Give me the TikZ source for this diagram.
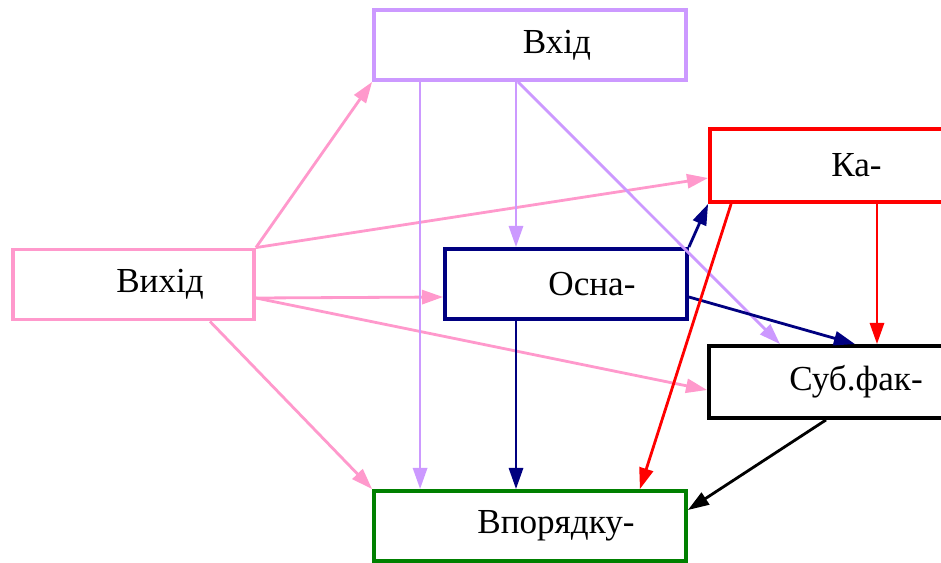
\documentclass[tikz,border=0pt]{standalone}
\usepackage{fontspec}
\setmainfont{Liberation Serif}
\usetikzlibrary{arrows.meta}

\definecolor{pinkline}{HTML}{FF99CC}
\definecolor{lilac}{HTML}{CC99FF}
\definecolor{navyline}{HTML}{000080}
\definecolor{redline}{HTML}{FF0000}
\definecolor{greenbox}{HTML}{008000}

\begin{document}
\begin{tikzpicture}[x=0.02cm,y=-0.02cm,>={Triangle[length=12pt,width=8pt]},
    font=\fontsize{20}{24}\selectfont,
    box/.style={draw,line width=2.2pt,fill=white,inner sep=0pt,minimum height=1.4cm},
    edge/.style={->,line width=1.6pt}]
    \useasboundingbox (0,0) rectangle (941,562);

    % draw the boxes, the text sits right of the middle
    \node[box,draw=lilac,minimum width=6.24cm,
          label={[name=vhidt,xshift=0.54cm]center:Вхід}] (vhid) at (530,45) {};
    \node[box,draw=pinkline,minimum width=4.82cm,
          label={[name=vyhidt,xshift=0.53cm]center:Вихід}] (vyhid) at (133.5,284.5) {};
    \node[box,draw=redline,minimum width=4.8cm,minimum height=1.46cm,
          label={[name=kat,xshift=0.53cm]center:Ка-}] (ka) at (830,165.5) {};
    \node[box,draw=navyline,minimum width=4.84cm,
          label={[name=osnat,xshift=0.52cm]center:Осна-}] (osna) at (566,284) {};
    \node[box,draw=black,minimum width=4.8cm,minimum height=1.44cm,
          label={[name=subt,xshift=0.54cm]center:Суб.фак-}] (sub) at (829,382) {};
    \node[box,draw=greenbox,minimum width=6.24cm,
          label={[name=vport,xshift=0.52cm]center:Впорядку-}] (vpor) at (530,526) {};

    % edges out of the left box
    \draw[edge,pinkline] (vyhid.north east) -- (vhid.south west);
    \draw[edge,pinkline] (vyhid.north east) -- ([yshift=-0.25cm]ka.west);
    \draw[edge,pinkline] ([yshift=-0.27cm]vyhid.east) -- ([yshift=-0.26cm]osna.west);
    \draw[edge,pinkline] ([yshift=-0.27cm]vyhid.east) -- ([yshift=-0.16cm]sub.west);
    \draw[edge,pinkline] ([xshift=1.53cm]vyhid.south) -- (vpor.north west);

    % edges out of the top box
    \draw[edge,lilac] ([xshift=0.96cm]vhid.south west) -- ([xshift=0.96cm]vpor.north west);
    \draw[edge,lilac] ([xshift=-0.28cm]vhid.south) -- ([xshift=-0.28cm]vhid.south |- osna.north);
    \draw[edge,lilac] ([xshift=-0.24cm]vhid.south) -- ([xshift=-0.98cm]sub.north);

    % edges out of the middle box
    \draw[edge,navyline] (osna.north east) -- (ka.south west);
    \draw[edge,navyline] ([yshift=-0.26cm]osna.east) -- ([xshift=0.52cm]sub.north);
    \draw[edge,navyline] ([xshift=-1cm]osna.south) -- ([xshift=-1cm]osna.south |- vpor.north);

    % edges out of the right boxes
    \draw[edge,redline] ([xshift=0.94cm]ka.south) -- ([xshift=0.94cm]ka.south |- sub.north);
    \draw[edge,redline] ([xshift=0.46cm]ka.south west) -- ([xshift=-0.96cm]vpor.north east);
    \draw[edge,black] ([xshift=-0.06cm]sub.south) -- ([yshift=0.32cm]vpor.east);
\end{tikzpicture}
\end{document}
